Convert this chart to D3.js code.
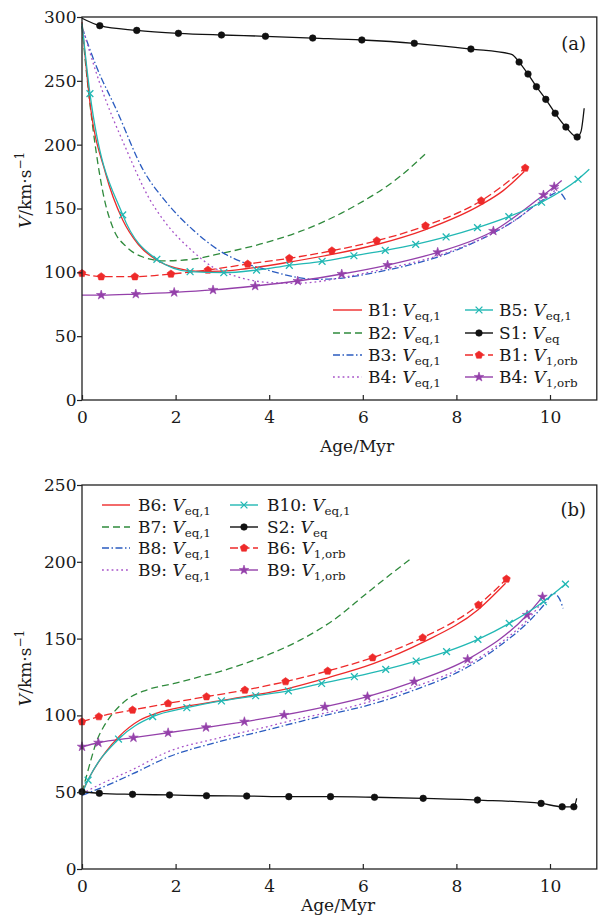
<!DOCTYPE html>
<html><head><meta charset="utf-8">
<script src="https://cdn.jsdelivr.net/npm/d3@7"></script>
<style>
body{margin:0;background:#fff}
text{font-family:"DejaVu Serif","Liberation Serif",serif;fill:#1a1a1a}
</style>
</head><body>
<svg id="c" width="603" height="922"></svg>
<script>
// ---------------- Panel (a) data: [Age/Myr, V km/s] ----------------
const xTicks = [0, 2, 4, 6, 8, 10];
const yTicksA = [0, 50, 100, 150, 200, 250, 300];
const yTicksB = [0, 50, 100, 150, 200, 250];

const a_B1_eq = [[0,296],[0.17,233],[0.5,178],[0.87,141],[1.2,122],[1.6,109.5],[2.0,103.5],[2.5,100.8],[3.0,101],[3.5,102.8],[4.43,108],[5.34,114],[6.3,121.8],[7.34,133.5],[8.53,153],[9.0,164],[9.45,179]];
const a_B2_eq = [[0,293],[0.08,262],[0.16,235],[0.3,195],[0.45,162],[0.67,134],[0.95,120],[1.3,112],[1.74,109],[2.3,110],[3.0,115],[3.8,122],[4.66,132],[5.73,150],[6.79,175],[7.39,194.5]];
const a_B3_eq = [[0,292],[0.31,261],[0.74,227],[1.31,180],[1.8,155],[2.38,133],[2.98,116],[3.5,107],[3.95,102],[4.52,96.6],[5.0,94.5],[5.5,95.3],[6.0,98],[6.5,101.6],[7.0,105.8],[7.6,112],[8.2,120.5],[8.8,131],[9.3,142],[9.7,153],[10.0,160],[10.18,163],[10.33,157]];
const a_B4_eq = [[0,293],[0.38,248],[0.95,196],[1.45,157],[1.74,141],[2.38,116],[2.8,104],[3.2,98],[3.59,94],[4.0,92],[4.52,91.4],[5.0,92.5],[5.5,95.5],[6.0,99],[6.5,103],[7.0,107],[7.6,113],[8.2,121],[8.8,131],[9.3,142],[9.7,153],[10.0,161],[10.2,167]];
const a_B5_eq = [[0,295],[0.17,240],[0.87,145],[1.6,110.2],[2.31,100.5],[3.03,99.7],[3.73,101.8],[4.43,105.5],[5.13,108.6],[5.81,113],[6.48,117.2],[7.13,121.9],[7.78,127.7],[8.45,135],[9.12,143.6],[9.82,154.9],[10.6,172.9],[10.84,180.7]];
const a_B5_marks = [[0.17,240],[0.87,145],[1.6,110.2],[2.31,100.5],[3.03,99.7],[3.73,101.8],[4.43,105.5],[5.13,108.6],[5.81,113],[6.48,117.2],[7.13,121.9],[7.78,127.7],[8.45,135],[9.12,143.6],[9.82,154.9],[10.6,172.9]];
const a_S1_eq = [[0,299],[0.38,293.2],[1.17,289.5],[2.06,287.2],[2.98,285.9],[3.92,284.9],[4.93,283.5],[5.98,282],[7.10,279.4],[8.31,274.9],[9.18,270.8],[9.34,264.7],[9.53,255.3],[9.71,245.4],[9.91,235.5],[10.11,224.6],[10.34,213.8],[10.58,206],[10.66,210],[10.73,228.5]];
const a_S1_marks = [[0.38,293.2],[1.17,289.5],[2.06,287.2],[2.98,285.9],[3.92,284.9],[4.93,283.5],[5.98,282],[7.10,279.4],[8.31,274.9],[9.34,264.7],[9.53,255.3],[9.71,245.4],[9.91,235.5],[10.11,224.6],[10.34,213.8],[10.58,206]];
const a_B1_orb = [[0,99.2],[0.41,96.6],[1.13,96.6],[1.9,98.7],[2.69,101.8],[3.54,106.5],[4.43,111],[5.34,116.9],[6.3,124.8],[7.34,136.5],[8.53,156.1],[9.47,181.7]];
const a_B1_orb_marks = a_B1_orb;
const a_B4_orb = [[0,82.2],[0.41,82.2],[1.15,83],[1.97,84.3],[2.8,86.2],[3.7,89.3],[4.61,93.2],[5.55,98.7],[6.53,105.7],[7.6,115.7],[8.79,132.4],[9.86,160.6],[10.09,167],[10.25,172]];
const a_B4_orb_marks = [[0.41,82.2],[1.15,83],[1.97,84.3],[2.8,86.2],[3.7,89.3],[4.61,93.2],[5.55,98.7],[6.53,105.7],[7.6,115.7],[8.79,132.4],[9.86,160.6],[10.09,167]];

// ---------------- Panel (b) data ----------------
const b_B6_eq = [[0,50],[0.2,62],[0.5,76],[0.8,86.5],[1.24,97],[1.6,101.5],[2.24,106],[3.0,109.8],[3.59,112.8],[4.4,117.5],[5.25,124.5],[6.21,133.5],[7.28,147.5],[8.47,169],[9.05,186]];
const b_B7_eq = [[0,50],[0.1,61],[0.2,72],[0.31,83],[0.45,92],[0.6,99],[0.8,106],[0.99,111],[1.38,116.5],[2.0,121],[2.52,125.2],[3.0,129],[3.59,135],[4.1,141],[4.66,149],[5.37,162],[6.08,179.4],[6.6,192],[7.01,201.6]];
const b_B8_eq = [[0,48],[0.38,52.5],[1.1,62.2],[1.81,72.5],[2.88,82.5],[3.95,90.5],[4.66,96],[5.19,100],[6.1,106.5],[7.1,116.5],[8.24,131.5],[9.0,147],[9.51,160],[9.9,173],[10.07,179.5],[10.2,176],[10.28,169.7]];
const b_B9_eq = [[0,49],[0.38,55],[1.1,65],[1.81,76],[2.88,85],[3.95,92.6],[4.66,98],[5.19,101.5],[6.1,108.5],[7.1,118.5],[8.24,133],[9.0,148.5],[9.51,162],[9.84,174]];
const b_B10_eq = [[0,49],[0.13,57.9],[0.78,84.6],[1.51,99.2],[2.24,105],[2.98,109.4],[3.71,112.8],[4.41,116],[5.12,120.8],[5.82,125.2],[6.49,130],[7.14,135.4],[7.79,141.5],[8.46,149.5],[9.13,159.9],[9.86,174],[10.33,185.5]];
const b_B10_marks = [[0.13,57.9],[0.78,84.6],[1.51,99.2],[2.24,105],[2.98,109.4],[3.71,112.8],[4.41,116],[5.12,120.8],[5.82,125.2],[6.49,130],[7.14,135.4],[7.79,141.5],[8.46,149.5],[9.13,159.9],[9.86,174],[10.33,185.5]];
const b_S2_eq = [[0,50.3],[0.37,49.3],[1.08,48.6],[1.87,48.2],[2.66,47.7],[3.52,47.5],[4.42,47.1],[5.31,47.1],[6.25,46.7],[7.29,46],[8.45,44.9],[9.81,42.7],[10.26,40.5],[10.51,40.5],[10.57,46]];
const b_S2_marks = [[0,50.3],[0.37,49.3],[1.08,48.6],[1.87,48.2],[2.66,47.7],[3.52,47.5],[4.42,47.1],[5.31,47.1],[6.25,46.7],[7.29,46],[8.45,44.9],[9.81,42.7],[10.26,40.5],[10.51,40.5]];
const b_B6_orb = [[0,95.9],[0.36,99.2],[1.08,103.5],[1.84,107.8],[2.66,112.2],[3.48,116.5],[4.35,122],[5.25,128.9],[6.21,137.6],[7.28,150.6],[8.47,171.9],[9.07,188.8]];
const b_B6_orb_marks = b_B6_orb;
const b_B9_orb = [[0,79.6],[0.35,82.2],[1.1,85.5],[1.84,88.7],[2.65,92.2],[3.47,95.9],[4.32,100.3],[5.19,105.6],[6.1,112.2],[7.1,122],[8.24,136.5],[9.51,165.4],[9.84,177.2]];
const b_B9_orb_marks = b_B9_orb;

// ---------------- styles ----------------
const C = {red:"#ee2a2a", green:"#2f8a3c", blue:"#2b5cc0", purpleDot:"#a652c8", purple:"#9440aa", cyan:"#22b8b4", black:"#111"};
const DASH = {solid:null, dashed:"7,4", dashdot:"7,2.5,1.5,2.5", dotted:"1.8,3", orb:"8,3.5"};

const svg = d3.select("#c");

function markerPath(type){
  if(type==="circle") return d3.symbol(d3.symbolCircle, 34)();
  if(type==="star") return d3.symbol(d3.symbolStar, 28)();
  if(type==="pent"){
    const r=4.0, p=[];
    for(let i=0;i<5;i++){const a=-Math.PI/2+i*2*Math.PI/5; p.push([r*Math.cos(a), r*Math.sin(a)]);}
    return "M"+p.map(d=>d.join(",")).join("L")+"Z";
  }
  if(type==="x"){const a=3.4; return `M${-a},${-a}L${a},${a}M${-a},${a}L${a},${-a}`;}
}
function drawMarker(g, type, color, x, y){
  const m = g.append("path").attr("d", markerPath(type)).attr("transform",`translate(${x},${y})`);
  if(type==="x") m.attr("fill","none").attr("stroke",color).attr("stroke-width",1.3);
  else m.attr("fill",color).attr("stroke",color).attr("stroke-width",0.6);
}

function labelText(g, x, y, pre, sub, size){
  const t = g.append("text").attr("x",x).attr("y",y).attr("font-size",size);
  t.append("tspan").text(pre);
  t.append("tspan").attr("font-style","italic").text("V");
  t.append("tspan").attr("font-size",size*0.7).attr("dy",4).text(sub);
  return t;
}

function panel(cfg){
  const {yTop, yBot, yDomain, yTicks, series, legend, tag, tagY, ylabY, xlabX, xlabY} = cfg;
  const x = d3.scaleLinear().domain([0,11]).range([82,596.8]);
  const y = d3.scaleLinear().domain(yDomain).range([yBot,yTop]);
  const g = svg.append("g");

  const line = d3.line().x(d=>x(d[0])).y(d=>y(d[1])).curve(d3.curveMonotoneX);
  series.forEach(s=>{
    g.append("path").datum(s.data).attr("d",line).attr("fill","none")
      .attr("stroke",s.color).attr("stroke-width",1.3)
      .attr("stroke-dasharray",DASH[s.dash]);
    if(s.marks) s.marks.forEach(d=>drawMarker(g, s.marker, s.color, x(d[0]), y(d[1])));
  });

  g.append("rect").attr("x",82).attr("y",yTop).attr("width",596.8-82).attr("height",yBot-yTop)
    .attr("fill","none").attr("stroke","#222").attr("stroke-width",1.3);

  const ax = g.append("g").attr("transform",`translate(0,${yBot})`)
    .call(d3.axisBottom(x).tickValues(xTicks).tickSize(-5).tickSizeOuter(0).tickPadding(11));
  const ay = g.append("g").attr("transform",`translate(82,0)`)
    .call(d3.axisLeft(y).tickValues(yTicks).tickSize(5).tickSizeOuter(0).tickPadding(0.5));
  [ax,ay].forEach(a=>{
    a.select(".domain").remove();
    a.selectAll("line").attr("stroke","#222").attr("stroke-width",1.2);
    a.selectAll("text").attr("font-family","DejaVu Serif").attr("font-size",17).attr("fill","#1a1a1a");
  });

  g.append("text").attr("x",586).attr("y",tagY).attr("text-anchor","end").attr("font-size",18).text(tag);

  g.append("text").attr("x",xlabX).attr("y",xlabY).attr("text-anchor","middle").attr("font-size",17).text("Age/Myr");
  const yl = g.append("text").attr("transform",`translate(31,${ylabY}) rotate(-90)`).attr("text-anchor","middle").attr("font-size",17);
  yl.append("tspan").attr("font-style","italic").text("V");
  yl.append("tspan").text("/km·s");
  yl.append("tspan").attr("font-size",12).attr("dy",-7).text("−1");

  legend.items.forEach((it,i)=>{
    const col = legend.cols[Math.floor(i/4)];
    const ry = legend.rows[i%4];
    const s = series.find(z=>z.name===it);
    g.append("line").attr("x1",col.l1).attr("x2",col.l2).attr("y1",ry).attr("y2",ry)
      .attr("stroke",s.color).attr("stroke-width",1.4).attr("stroke-dasharray",DASH[s.dash]);
    if(s.marker) drawMarker(g, s.marker, s.color, (col.l1+col.l2)/2, ry);
    labelText(g, col.t, ry+5.5, s.pre, s.sub, 17);
  });
}

panel({
  yTop:17, yBot:400, yDomain:[0,300], yTicks:yTicksA, tag:"(a)", tagY:50, ylabY:190, xlabX:357, xlabY:452,
  series:[
    {name:"B2", data:a_B2_eq, color:C.green, dash:"dashed", pre:"B2: ", sub:"eq,1"},
    {name:"B3", data:a_B3_eq, color:C.blue, dash:"dashdot", pre:"B3: ", sub:"eq,1"},
    {name:"B4", data:a_B4_eq, color:C.purpleDot, dash:"dotted", pre:"B4: ", sub:"eq,1"},
    {name:"B4o", data:a_B4_orb, marks:a_B4_orb_marks, marker:"star", color:C.purple, dash:"solid", pre:"B4: ", sub:"1,orb"},
    {name:"B1", data:a_B1_eq, color:C.red, dash:"solid", pre:"B1: ", sub:"eq,1"},
    {name:"B1o", data:a_B1_orb, marks:a_B1_orb_marks, marker:"pent", color:C.red, dash:"orb", pre:"B1: ", sub:"1,orb"},
    {name:"B5", data:a_B5_eq, marks:a_B5_marks, marker:"x", color:C.cyan, dash:"solid", pre:"B5: ", sub:"eq,1"},
    {name:"S1", data:a_S1_eq, marks:a_S1_marks, marker:"circle", color:C.black, dash:"solid", pre:"S1: ", sub:"eq"}
  ],
  legend:{items:["B1","B2","B3","B4","B5","S1","B1o","B4o"], rows:[310,333,355,377],
    cols:[{l1:333,l2:362,t:368},{l1:465,l2:493,t:499}]}
});

panel({
  yTop:485, yBot:869, yDomain:[0,250], yTicks:yTicksB, tag:"(b)", tagY:516, ylabY:668, xlabX:338, xlabY:911,
  series:[
    {name:"B7", data:b_B7_eq, color:C.green, dash:"dashed", pre:"B7: ", sub:"eq,1"},
    {name:"B8", data:b_B8_eq, color:C.blue, dash:"dashdot", pre:"B8: ", sub:"eq,1"},
    {name:"B9", data:b_B9_eq, color:C.purpleDot, dash:"dotted", pre:"B9: ", sub:"eq,1"},
    {name:"B9o", data:b_B9_orb, marks:b_B9_orb_marks, marker:"star", color:C.purple, dash:"solid", pre:"B9: ", sub:"1,orb"},
    {name:"B6", data:b_B6_eq, color:C.red, dash:"solid", pre:"B6: ", sub:"eq,1"},
    {name:"B6o", data:b_B6_orb, marks:b_B6_orb_marks, marker:"pent", color:C.red, dash:"orb", pre:"B6: ", sub:"1,orb"},
    {name:"B10", data:b_B10_eq, marks:b_B10_marks, marker:"x", color:C.cyan, dash:"solid", pre:"B10: ", sub:"eq,1"},
    {name:"S2", data:b_S2_eq, marks:b_S2_marks, marker:"circle", color:C.black, dash:"solid", pre:"S2: ", sub:"eq"}
  ],
  legend:{items:["B6","B7","B8","B9","B10","S2","B6o","B9o"], rows:[505,527,548,570],
    cols:[{l1:102,l2:130,t:138},{l1:230,l2:258,t:267}]}
});
</script>
</body></html>
